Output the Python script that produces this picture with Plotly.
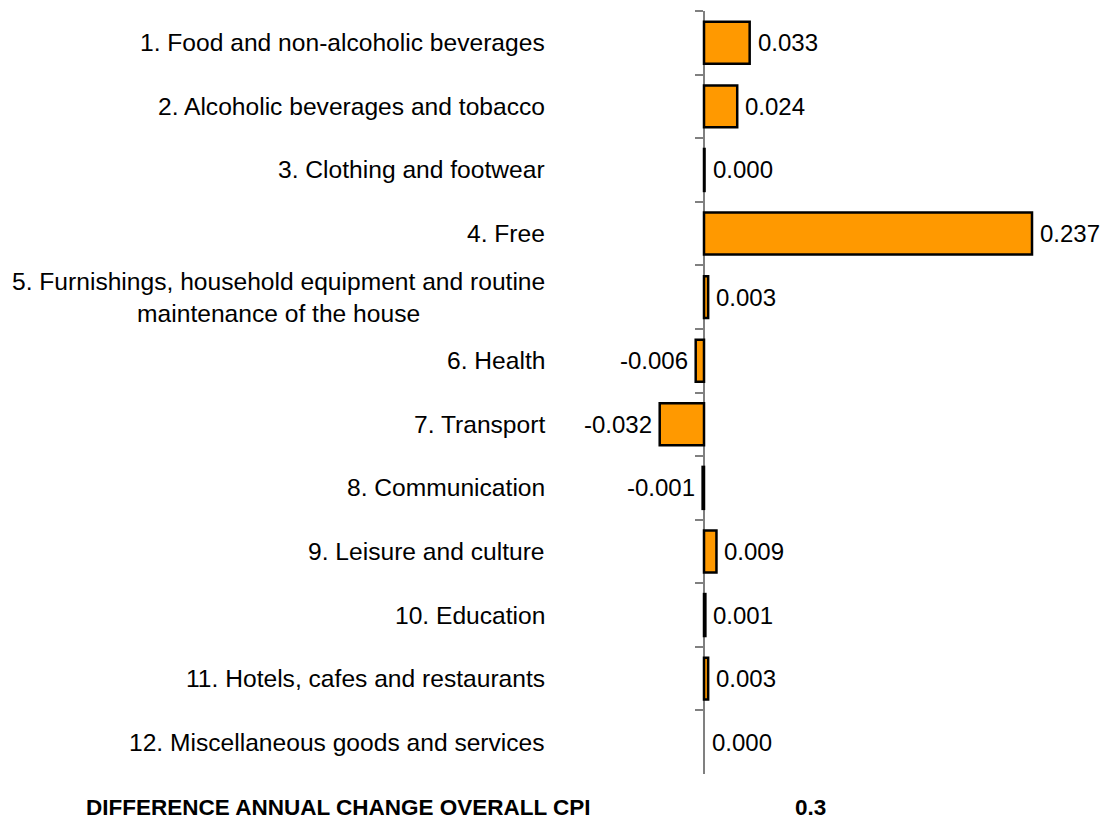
import plotly.graph_objects as go

categories = [
    "1. Food and non-alcoholic beverages",
    "2. Alcoholic beverages and tobacco",
    "3. Clothing and footwear",
    "4. Free",
    "5. Furnishings, household equipment and routine<br>maintenance of the house",
    "6. Health",
    "7. Transport",
    "8. Communication",
    "9. Leisure and culture",
    "10. Education",
    "11. Hotels, cafes and restaurants",
    "12. Miscellaneous goods and services",
]
values = [0.033, 0.024, 0.0004, 0.237, 0.003, -0.006, -0.032, -0.001, 0.009, 0.001, 0.003, 0.0]
footer_label = "DIFFERENCE ANNUAL CHANGE OVERALL CPI"
footer_value = "0.3"

W, H = 1112, 819
FONT = "Arial, Liberation Sans, sans-serif"
xmin, xmax = -704 / 1384, 408 / 1384
zero_pos = (0 - xmin) / (xmax - xmin)

fig = go.Figure()
fig.add_trace(go.Bar(
    y=categories, x=values, orientation="h",
    marker=dict(color="#FF9900",
                line=dict(color="black", width=[0 if v == 0 else 2.5 for v in values])),
    hoverinfo="skip",
))

annotations = []
for c in categories:
    annotations.append(dict(
        x=547 / W, xref="paper", y=c, yref="y", text=c, showarrow=False,
        xanchor="right", yanchor="middle", align="center",
        font=dict(family=FONT, size=24.6, color="black"),
    ))
for c, v in zip(categories, values):
    neg = v < 0
    annotations.append(dict(
        x=v, xref="x", y=c, yref="y", text=f"{v:.3f}", showarrow=False,
        xanchor="right" if neg else "left", xshift=-6 if neg else 6,
        yanchor="middle",
        font=dict(family=FONT, size=24, color="black"),
    ))
annotations.append(dict(
    x=338 / W, xref="paper", y=0, yref="paper", yshift=-33, text="<b>" + footer_label + "</b>",
    showarrow=False, xanchor="center", yanchor="middle", height=24,
    font=dict(family=FONT, size=22.5, color="black"),
))
annotations.append(dict(
    x=810 / W, xref="paper", y=0, yref="paper", yshift=-33, text="<b>" + footer_value + "</b>",
    showarrow=False, xanchor="center", yanchor="middle", height=24,
    font=dict(family=FONT, size=22.5, color="black"),
))

fig.update_layout(
    width=W, height=H,
    margin=dict(l=0, r=0, t=11, b=45),
    paper_bgcolor="white", plot_bgcolor="white",
    showlegend=False, bargap=0.34,
    xaxis=dict(range=[xmin, xmax], domain=[0, 1], showgrid=False, zeroline=False,
               showticklabels=False, showline=False, ticks=""),
    yaxis=dict(type="category", categoryorder="array", categoryarray=categories,
               autorange="reversed", anchor="free", position=zero_pos,
               showline=True, linecolor="#808080", linewidth=1.5,
               ticks="outside", tickson="boundaries", ticklen=8, tickcolor="#808080",
               tickwidth=1.5, showticklabels=False, showgrid=False, zeroline=False,
               layer="below traces"),
    annotations=annotations,
)

fig.write_html("out.html", config={"displayModeBar": False},
               post_script="document.body.style.margin='0';document.body.style.overflow='hidden';")
